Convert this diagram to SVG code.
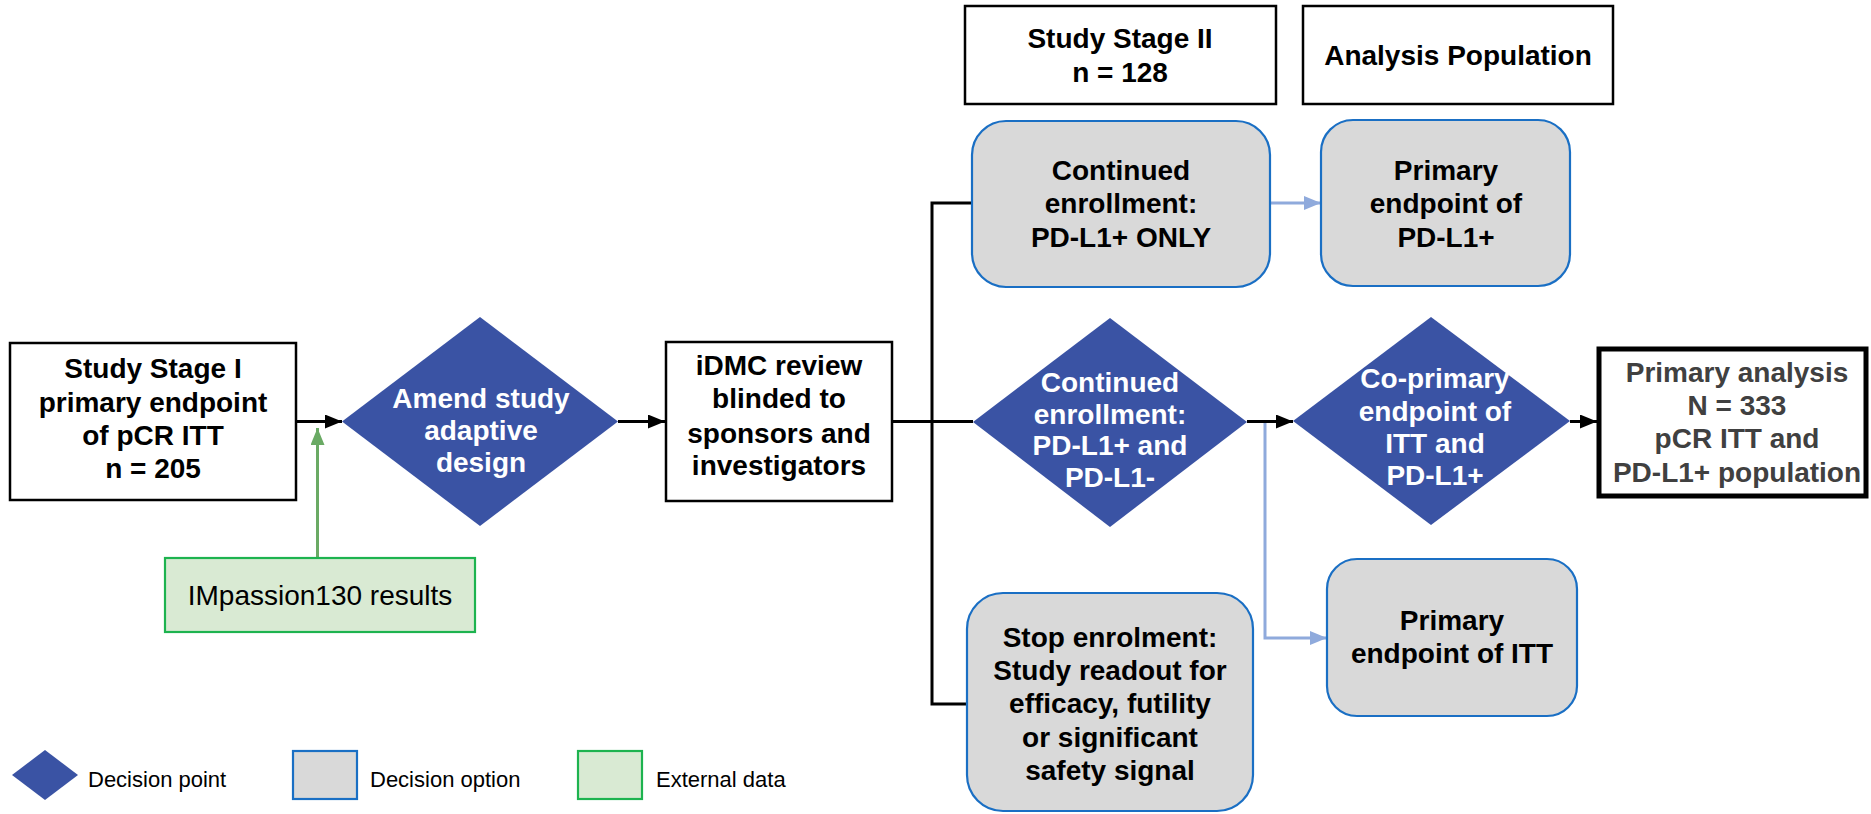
<svg xmlns="http://www.w3.org/2000/svg" width="1871" height="814" viewBox="0 0 1871 814">
<style>
text{font-family:"Liberation Sans",Arial,sans-serif;}
.t{font-size:28px;font-weight:bold;text-anchor:middle;fill:#000;}
.w{font-size:28px;font-weight:bold;text-anchor:middle;fill:#fff;}
.g{font-size:28px;font-weight:bold;text-anchor:middle;fill:#404040;}
.r{font-size:28px;text-anchor:middle;fill:#000;}
.leg{font-size:22px;fill:#000;}
.box{fill:#fff;stroke:#000;stroke-width:2.5;}
.dia{fill:#3A53A4;}
.opt{fill:#D9D9D9;stroke:#1A6FC4;stroke-width:2.2;}
.ext{fill:#D9EAD3;stroke:#1DB34F;stroke-width:2.2;}
.k{fill:none;stroke:#000;stroke-width:3;}
.lb{fill:none;stroke:#8FAADC;stroke-width:3;}
.gr{fill:none;stroke:#6AAA64;stroke-width:3;}
</style>
<defs>
<marker id="ak" markerUnits="userSpaceOnUse" markerWidth="17" markerHeight="14" refX="17" refY="7" orient="auto"><path d="M0,0 L17,7 L0,14 z" fill="#000"/></marker>
<marker id="ab" markerUnits="userSpaceOnUse" markerWidth="17" markerHeight="14" refX="17" refY="7" orient="auto"><path d="M0,0 L17,7 L0,14 z" fill="#8FAADC"/></marker>
<marker id="ag" markerUnits="userSpaceOnUse" markerWidth="17" markerHeight="14" refX="17" refY="7" orient="auto"><path d="M0,0 L17,7 L0,14 z" fill="#6AAA64"/></marker>
</defs>

<g id="connectors">
<line class="k" x1="296" y1="421.5" x2="342" y2="421.5" marker-end="url(#ak)"/>
<line class="gr" x1="317.5" y1="558" x2="317.5" y2="428" marker-end="url(#ag)"/>
<line class="k" x1="618" y1="421.5" x2="665" y2="421.5" marker-end="url(#ak)"/>
<line class="k" x1="892" y1="421.5" x2="973" y2="421.5"/>
<polyline class="k" points="972,203 932,203 932,704 967,704"/>
<line class="k" x1="1247" y1="421.5" x2="1293" y2="421.5" marker-end="url(#ak)"/>
<line class="k" x1="1570" y1="421.5" x2="1597" y2="421.5" marker-end="url(#ak)"/>
<line class="lb" x1="1270" y1="203" x2="1321" y2="203" marker-end="url(#ab)"/>
<polyline class="lb" points="1265,423 1265,638 1327,638" marker-end="url(#ab)"/>
</g>

<g id="stage1">
<rect class="box" x="10" y="343" width="286" height="157"/>
<text class="t"><tspan x="153" y="378">Study Stage I</tspan><tspan x="153" y="412">primary endpoint</tspan><tspan x="153" y="445">of pCR ITT</tspan><tspan x="153" y="478">n = 205</tspan></text>
</g>

<g id="amend">
<polygon class="dia" points="480,317 618,421.5 480,526 342,421.5"/>
<text class="w"><tspan x="481" y="408">Amend study</tspan><tspan x="481" y="440">adaptive</tspan><tspan x="481" y="472">design</tspan></text>
</g>

<g id="impassion">
<rect class="ext" x="165" y="558" width="310" height="74"/>
<text class="r" x="320" y="605">IMpassion130 results</text>
</g>

<g id="idmc">
<rect class="box" x="666" y="342" width="226" height="159"/>
<text class="t"><tspan x="779" y="375">iDMC review</tspan><tspan x="779" y="408">blinded to</tspan><tspan x="779" y="443">sponsors and</tspan><tspan x="779" y="475">investigators</tspan></text>
</g>

<g id="stage2">
<rect class="box" x="965" y="6" width="311" height="98"/>
<text class="t"><tspan x="1120" y="48">Study Stage II</tspan><tspan x="1120" y="82">n = 128</tspan></text>
</g>

<g id="analysis-pop">
<rect class="box" x="1303" y="6" width="310" height="98"/>
<text class="t" x="1458" y="65">Analysis Population</text>
</g>

<g id="cont-only">
<rect class="opt" x="972" y="121" width="298" height="166" rx="34" ry="34"/>
<text class="t"><tspan x="1121" y="180">Continued</tspan><tspan x="1121" y="213">enrollment:</tspan><tspan x="1121" y="247">PD-L1+ ONLY</tspan></text>
</g>

<g id="pe-pdl1">
<rect class="opt" x="1321" y="120" width="249" height="166" rx="32" ry="32"/>
<text class="t"><tspan x="1446" y="180">Primary</tspan><tspan x="1446" y="213">endpoint of</tspan><tspan x="1446" y="247">PD-L1+</tspan></text>
</g>

<g id="cont-both">
<polygon class="dia" points="1110,318 1247,422 1110,527 973,422"/>
<text class="w"><tspan x="1110" y="392">Continued</tspan><tspan x="1110" y="424">enrollment:</tspan><tspan x="1110" y="455">PD-L1+ and</tspan><tspan x="1110" y="487">PD-L1-</tspan></text>
</g>

<g id="coprimary">
<polygon class="dia" points="1431,317 1570,421 1431,525 1293,421"/>
<text class="w"><tspan x="1435" y="388">Co-primary</tspan><tspan x="1435" y="421">endpoint of</tspan><tspan x="1435" y="453">ITT and</tspan><tspan x="1435" y="485">PD-L1+</tspan></text>
</g>

<g id="primary-analysis">
<rect x="1599" y="349" width="267" height="147" fill="#fff" stroke="#000" stroke-width="5"/>
<text class="g"><tspan x="1737" y="382">Primary analysis</tspan><tspan x="1737" y="415">N = 333</tspan><tspan x="1737" y="448">pCR ITT and</tspan><tspan x="1737" y="482">PD-L1+ population</tspan></text>
</g>

<g id="stop">
<rect class="opt" x="967" y="593" width="286" height="218" rx="36" ry="36"/>
<text class="t"><tspan x="1110" y="647">Stop enrolment:</tspan><tspan x="1110" y="680">Study readout for</tspan><tspan x="1110" y="713">efficacy, futility</tspan><tspan x="1110" y="747">or significant</tspan><tspan x="1110" y="780">safety signal</tspan></text>
</g>

<g id="pe-itt">
<rect class="opt" x="1327" y="559" width="250" height="157" rx="30" ry="30"/>
<text class="t"><tspan x="1452" y="630">Primary</tspan><tspan x="1452" y="663">endpoint of ITT</tspan></text>
</g>

<g id="legend">
<polygon class="dia" points="45,750 78,775 45,800 12,775"/>
<text class="leg" x="88" y="787">Decision point</text>
<rect class="opt" x="293" y="751" width="64" height="48"/>
<text class="leg" x="370" y="787">Decision option</text>
<rect class="ext" x="578" y="751" width="64" height="48"/>
<text class="leg" x="656" y="787">External data</text>
</g>
</svg>
